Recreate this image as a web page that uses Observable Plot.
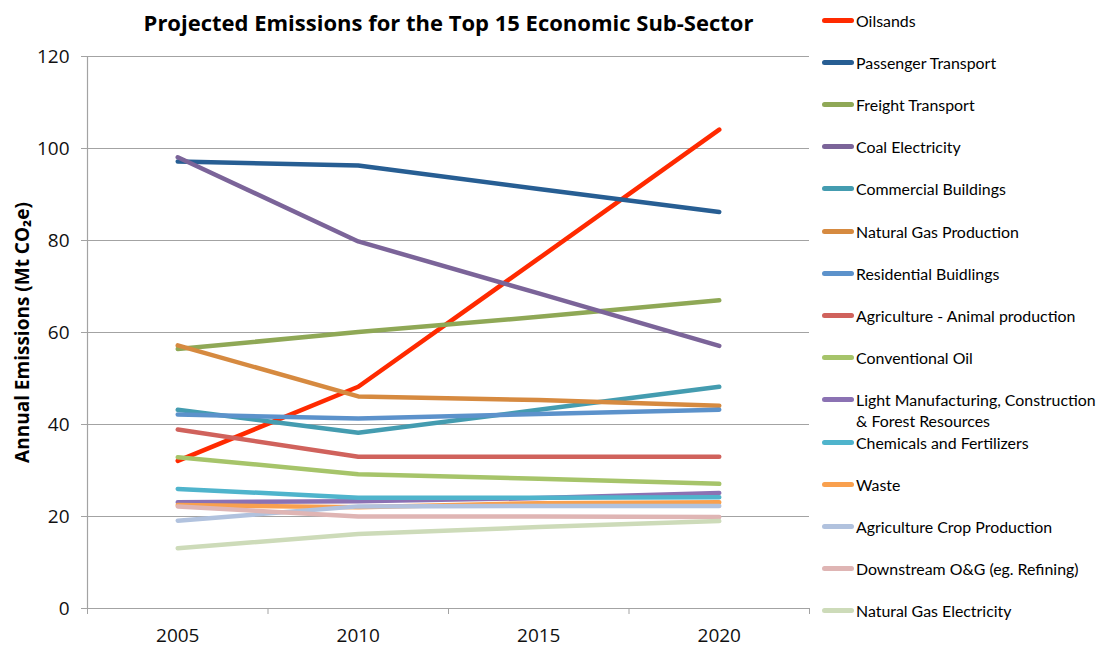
<!DOCTYPE html>
<html><head><meta charset="utf-8">
<script src="https://cdn.jsdelivr.net/npm/d3@7"></script>
<script src="https://cdn.jsdelivr.net/npm/@observablehq/plot@0.6"></script>
<style>
body{margin:0;background:#fff;font-family:Lato,"Open Sans",sans-serif;}
#wrap{position:relative;width:1102px;height:648px;overflow:hidden;}
#title{position:absolute;left:87px;width:723px;top:8px;text-align:center;font-family:"Open Sans",sans-serif;font-weight:bold;font-size:22px;line-height:28px;color:#000;}
#chart{position:absolute;left:0;top:44px;}
.item{position:absolute;left:822px;width:280px;font-size:15.9px;line-height:21px;color:#000;}
.sw{position:absolute;left:0;top:8px;width:32px;height:5px;border-radius:3px;}
.lab{position:absolute;left:34px;top:0;white-space:nowrap;}
</style>
</head><body>
<div id="wrap">
  <div id="title"></div>
  <div id="chart"></div>
  <div id="legend"></div>
</div>
<script>
const titleText = "Projected Emissions for the Top 15 Economic Sub-Sector";
const yLabel = "Annual Emissions (Mt CO₂e)";
const years = [2005, 2010, 2015, 2020];
const yTicks = [0, 20, 40, 60, 80, 100, 120];

const sectors = [
  "Oilsands", "Passenger Transport", "Freight Transport", "Coal Electricity",
  "Commercial Buildings", "Natural Gas Production", "Residential Buidlings",
  "Agriculture - Animal production", "Conventional Oil",
  "Light Manufacturing, Construction\n& Forest Resources",
  "Chemicals and Fertilizers", "Waste", "Agriculture Crop Production",
  "Downstream O&G (eg. Refining)", "Natural Gas Electricity"
];
const colors = [
  "#ff2a00", "#275e93", "#8fa856", "#7b6499",
  "#449cb0", "#d68a40", "#5c92cb",
  "#d0625c", "#a6c46a",
  "#8b72b3",
  "#4fb4cc", "#f9a04e", "#b1c2de",
  "#dfb5b4", "#cddbb9"
];

const oilsands        = [32.1, 48.2, 76.1, 104.1];
const passenger       = [97.2, 96.3, 91.2, 86.2];
const freight         = [56.4, 60.1, 63.4, 67.0];
const coal            = [98.1, 79.8, 68.5, 57.1];
const commercial      = [43.2, 38.2, 43.2, 48.2];
const natGasProd      = [57.2, 46.1, 45.3, 44.1];
const residential     = [42.2, 41.3, 42.3, 43.2];
const agriAnimal      = [38.9, 33.0, 33.0, 33.0];
const conventionalOil = [32.9, 29.2, 28.2, 27.1];
const lightMfg        = [23.1, 23.3, 24.0, 25.1];
const chemicals       = [26.0, 24.1, 24.1, 24.2];
const waste           = [22.5, 22.0, 22.9, 23.1];
const agriCrop        = [19.1, 22.2, 22.3, 22.3];
const downstream      = [22.2, 20.0, 20.0, 19.9];
const natGasElec      = [13.1, 16.2, 17.7, 19.0];

const series = [oilsands, passenger, freight, coal, commercial, natGasProd, residential,
  agriAnimal, conventionalOil, lightMfg, chemicals, waste, agriCrop, downstream, natGasElec];

const rows = [];
sectors.forEach((s, i) => years.forEach((yr, j) => rows.push({sector: s, year: yr, value: series[i][j]})));

document.getElementById("title").textContent = titleText;

const gray = "#a3a3a3";
const xMin = 2002.5, xMax = 2022.5;
const bounds = [2002.5, 2007.5, 2012.5, 2017.5, 2022.5];
const axisFont = "'Open Sans', sans-serif";

const chart = Plot.plot({
  width: 810, height: 604,
  marginLeft: 87, marginRight: 1, marginTop: 12, marginBottom: 40,
  style: {fontFamily: axisFont, background: "transparent"},
  x: {domain: [xMin, xMax]},
  y: {domain: [0, 120]},
  color: {domain: sectors, range: colors},
  marks: [
    Plot.ruleY(yTicks.filter(d => d > 0), {stroke: gray, strokeWidth: 1.2}),
    Plot.ruleX([xMin], {stroke: gray, strokeWidth: 1.2}),
    Plot.ruleY([0], {stroke: gray, strokeWidth: 1.2}),
    Plot.axisY(yTicks, {tickSize: 6, tickPadding: 12, fontSize: 19, stroke: gray, fill: "#111", label: null}),
    Plot.axisX(bounds, {tickSize: 6, tickFormat: () => "", stroke: gray, label: null}),
    Plot.axisX(years, {tickSize: 0, tickPadding: 20, fontSize: 19, fill: "#111", tickFormat: d => String(d), label: null}),
    Plot.text([yLabel], {frameAnchor: "left", textAnchor: "middle", rotate: -90, dx: -65, fontSize: 19, fontWeight: "bold", fill: "#000"}),
    Plot.line(rows, {x: "year", y: "value", z: "sector", stroke: "sector", strokeWidth: 4.5,
      strokeLinecap: "round", strokeLinejoin: "round"})
  ]
});
document.getElementById("chart").appendChild(chart);

const legend = document.getElementById("legend");
sectors.forEach((s, i) => {
  const it = document.createElement("div");
  it.className = "item";
  it.style.top = (20 + 42.2 * i - 10.5) + "px";
  const sw = document.createElement("div");
  sw.className = "sw";
  sw.style.background = colors[i];
  const lab = document.createElement("div");
  lab.className = "lab";
  lab.innerHTML = s.split("\n").map(t => t.replace(/&/g, "&amp;")).join("<br>");
  it.appendChild(sw); it.appendChild(lab);
  legend.appendChild(it);
});
</script>
</body></html>
